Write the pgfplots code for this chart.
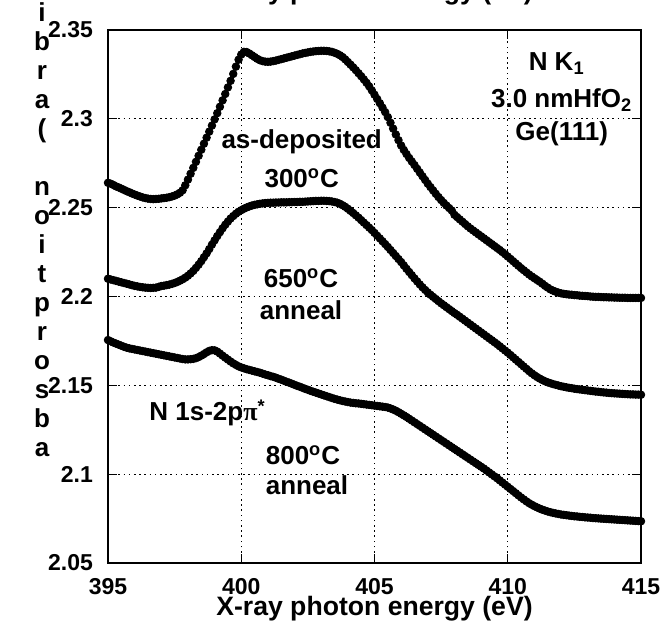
\documentclass[border=0pt]{standalone}
\usepackage{pgfplots}
\pgfplotsset{compat=1.18}
\usepackage{fontspec}
\setmainfont{Liberation Sans}
\newfontfamily\grk{Liberation Serif}
\newcommand\tl{\fontsize{11.5}{13}\selectfont\bfseries}
\begin{document}
\begin{tikzpicture}
\useasboundingbox (-54pt,-38pt) rectangle (281pt,281.5pt);
\clip (-54pt,-38pt) rectangle (281pt,281.5pt);
\begin{axis}[
  at={(0,0)}, anchor=south west,
  width=266.5pt, height=266.5pt, scale only axis,
  xmin=395, xmax=415, ymin=2.05, ymax=2.35,
  xtick={395,400,405,410,415},
  xticklabels={\tl 395,\tl 400,\tl 405,\tl 410,\tl 415},
  ytick={2.05,2.1,2.15,2.2,2.25,2.3,2.35},
  yticklabels={\tl 2.05,\tl 2.1,\tl 2.15,\tl 2.2,\tl 2.25,\tl 2.3,\tl 2.35},
  every tick label/.append style={font=\tl},
  yticklabel style={xshift=-4pt},
  xticklabel style={yshift=-4.3pt},
  tick align=inside, major tick length=4.5pt,
  xtick pos=both, ytick pos=both,
  tick style={black, line width=0.6pt},
  axis line style={black, line width=0.7pt},
  grid=major,
  major grid style={black, line width=0.5pt, dash pattern=on 0.8pt off 1.8pt},
  xlabel={X-ray photon energy (eV)},
  xlabel style={at={(axis description cs:0.5,0)}, anchor=base, yshift=-26pt, font=\bfseries\fontsize{13.3}{15}\selectfont},
  title={X-ray photon energy (eV)},
  title style={at={(axis description cs:0.5,1)}, anchor=base, yshift=9.5pt, font=\bfseries\fontsize{13.3}{15}\selectfont},
]
% as-deposited 300 C
\addplot[only marks, mark=*, mark size=1.9pt, black] table {
395.0 2.2640
395.1 2.2635
395.2 2.2628
395.3 2.2620
395.4 2.2614
395.5 2.2607
395.6 2.2600
395.7 2.2593
395.8 2.2587
395.9 2.2580
396.0 2.2574
396.1 2.2568
396.2 2.2563
396.3 2.2558
396.4 2.2554
396.5 2.2551
396.6 2.2549
396.7 2.2548
396.8 2.2549
396.9 2.2550
397.0 2.2552
397.1 2.2554
397.2 2.2556
397.3 2.2559
397.4 2.2563
397.5 2.2568
397.6 2.2575
397.7 2.2584
397.8 2.2598
397.9 2.2626
398.0 2.2658
398.1 2.2691
398.2 2.2724
398.3 2.2758
398.4 2.2792
398.5 2.2826
398.6 2.2860
398.7 2.2894
398.8 2.2928
398.9 2.2962
399.0 2.2997
399.1 2.3032
399.2 2.3068
399.3 2.3104
399.4 2.3140
399.5 2.3177
399.6 2.3214
399.7 2.3253
399.8 2.3294
399.9 2.3333
400.0 2.3362
400.1 2.3377
400.2 2.3376
400.3 2.3368
400.4 2.3358
400.5 2.3348
400.6 2.3338
400.7 2.3330
400.8 2.3325
400.9 2.3322
401.0 2.3321
401.1 2.3322
401.2 2.3325
401.3 2.3328
401.4 2.3332
401.5 2.3336
401.6 2.3340
401.7 2.3344
401.8 2.3348
401.9 2.3352
402.0 2.3356
402.1 2.3360
402.2 2.3364
402.3 2.3368
402.4 2.3371
402.5 2.3374
402.6 2.3377
402.7 2.3379
402.8 2.3381
402.9 2.3382
403.0 2.3383
403.1 2.3383
403.2 2.3382
403.3 2.3380
403.4 2.3377
403.5 2.3372
403.6 2.3366
403.7 2.3358
403.8 2.3348
403.9 2.3335
404.0 2.3320
404.1 2.3305
404.2 2.3290
404.3 2.3274
404.4 2.3257
404.5 2.3240
404.6 2.3222
404.7 2.3203
404.8 2.3183
404.9 2.3160
405.0 2.3136
405.1 2.3112
405.2 2.3088
405.3 2.3063
405.4 2.3038
405.5 2.3010
405.6 2.2978
405.7 2.2945
405.8 2.2912
405.9 2.2880
406.0 2.2850
406.1 2.2825
406.2 2.2802
406.3 2.2780
406.4 2.2760
406.5 2.2740
406.6 2.2719
406.7 2.2698
406.8 2.2677
406.9 2.2656
407.0 2.2635
407.1 2.2616
407.2 2.2597
407.3 2.2578
407.4 2.2560
407.5 2.2543
407.6 2.2527
407.7 2.2512
407.8 2.2498
407.9 2.2484
408.0 2.2460
408.1 2.2447
408.2 2.2434
408.3 2.2421
408.4 2.2408
408.5 2.2395
408.6 2.2383
408.7 2.2372
408.8 2.2361
408.9 2.2350
409.0 2.2339
409.1 2.2328
409.2 2.2317
409.3 2.2306
409.4 2.2295
409.5 2.2284
409.6 2.2273
409.7 2.2262
409.8 2.2250
409.9 2.2238
410.0 2.2225
410.1 2.2212
410.2 2.2199
410.3 2.2186
410.4 2.2173
410.5 2.2160
410.6 2.2148
410.7 2.2136
410.8 2.2124
410.9 2.2113
411.0 2.2103
411.1 2.2093
411.2 2.2083
411.3 2.2072
411.4 2.2060
411.5 2.2050
411.6 2.2040
411.7 2.2033
411.8 2.2027
411.9 2.2022
412.0 2.2018
412.1 2.2015
412.2 2.2013
412.3 2.2011
412.4 2.2010
412.5 2.2008
412.6 2.2007
412.7 2.2005
412.8 2.2004
412.9 2.2003
413.0 2.2002
413.1 2.2000
413.2 2.1999
413.3 2.1998
413.4 2.1998
413.5 2.1997
413.6 2.1996
413.7 2.1996
413.8 2.1995
413.9 2.1995
414.0 2.1994
414.1 2.1994
414.2 2.1993
414.3 2.1993
414.4 2.1993
414.5 2.1992
414.6 2.1992
414.7 2.1992
414.8 2.1992
414.9 2.1992
415.0 2.1992
};
% 650 C anneal
\addplot[only marks, mark=*, mark size=1.9pt, black] table {
395.0 2.2100
395.1 2.2096
395.2 2.2092
395.3 2.2088
395.4 2.2084
395.5 2.2080
395.6 2.2076
395.7 2.2072
395.8 2.2068
395.9 2.2064
396.0 2.2060
396.1 2.2057
396.2 2.2054
396.3 2.2052
396.4 2.2050
396.5 2.2049
396.6 2.2048
396.7 2.2049
396.8 2.2050
396.9 2.2054
397.0 2.2059
397.1 2.2061
397.2 2.2064
397.3 2.2067
397.4 2.2071
397.5 2.2076
397.6 2.2082
397.7 2.2089
397.8 2.2097
397.9 2.2106
398.0 2.2117
398.1 2.2130
398.2 2.2144
398.3 2.2161
398.4 2.2179
398.5 2.2199
398.6 2.2221
398.7 2.2243
398.8 2.2267
398.9 2.2292
399.0 2.2316
399.1 2.2340
399.2 2.2362
399.3 2.2384
399.4 2.2404
399.5 2.2422
399.6 2.2439
399.7 2.2453
399.8 2.2466
399.9 2.2477
400.0 2.2486
400.1 2.2494
400.2 2.2501
400.3 2.2507
400.4 2.2512
400.5 2.2516
400.6 2.2519
400.7 2.2522
400.8 2.2524
400.9 2.2526
401.0 2.2527
401.1 2.2528
401.2 2.2528
401.3 2.2529
401.4 2.2529
401.5 2.2530
401.6 2.2530
401.7 2.2530
401.8 2.2531
401.9 2.2531
402.0 2.2532
402.1 2.2532
402.2 2.2533
402.3 2.2533
402.4 2.2534
402.5 2.2535
402.6 2.2536
402.7 2.2537
402.8 2.2538
402.9 2.2538
403.0 2.2539
403.1 2.2539
403.2 2.2538
403.3 2.2537
403.4 2.2535
403.5 2.2532
403.6 2.2528
403.7 2.2522
403.8 2.2514
403.9 2.2505
404.0 2.2494
404.1 2.2482
404.2 2.2470
404.3 2.2457
404.4 2.2444
404.5 2.2430
404.6 2.2416
404.7 2.2402
404.8 2.2388
404.9 2.2374
405.0 2.2358
405.1 2.2342
405.2 2.2327
405.3 2.2311
405.4 2.2295
405.5 2.2279
405.6 2.2262
405.7 2.2245
405.8 2.2228
405.9 2.2211
406.0 2.2194
406.1 2.2175
406.2 2.2156
406.3 2.2138
406.4 2.2120
406.5 2.2102
406.6 2.2085
406.7 2.2068
406.8 2.2052
406.9 2.2037
407.0 2.2023
407.1 2.2010
407.2 2.1998
407.3 2.1986
407.4 2.1974
407.5 2.1962
407.6 2.1951
407.7 2.1940
407.8 2.1929
407.9 2.1918
408.0 2.1907
408.1 2.1897
408.2 2.1886
408.3 2.1875
408.4 2.1864
408.5 2.1853
408.6 2.1842
408.7 2.1831
408.8 2.1820
408.9 2.1809
409.0 2.1798
409.1 2.1787
409.2 2.1776
409.3 2.1765
409.4 2.1754
409.5 2.1743
409.6 2.1732
409.7 2.1720
409.8 2.1708
409.9 2.1696
410.0 2.1684
410.1 2.1671
410.2 2.1658
410.3 2.1645
410.4 2.1632
410.5 2.1619
410.6 2.1606
410.7 2.1593
410.8 2.1580
410.9 2.1568
411.0 2.1557
411.1 2.1547
411.2 2.1538
411.3 2.1530
411.4 2.1523
411.5 2.1517
411.6 2.1512
411.7 2.1507
411.8 2.1503
411.9 2.1499
412.0 2.1495
412.1 2.1492
412.2 2.1489
412.3 2.1486
412.4 2.1484
412.5 2.1481
412.6 2.1479
412.7 2.1477
412.8 2.1475
412.9 2.1473
413.0 2.1471
413.1 2.1469
413.2 2.1467
413.3 2.1465
413.4 2.1464
413.5 2.1462
413.6 2.1460
413.7 2.1459
413.8 2.1457
413.9 2.1456
414.0 2.1455
414.1 2.1454
414.2 2.1453
414.3 2.1452
414.4 2.1451
414.5 2.1450
414.6 2.1449
414.7 2.1449
414.8 2.1448
414.9 2.1448
415.0 2.1447
};
% 800 C anneal
\addplot[only marks, mark=*, mark size=1.9pt, black] table {
395.0 2.1755
395.1 2.1748
395.2 2.1741
395.3 2.1735
395.4 2.1729
395.5 2.1723
395.6 2.1717
395.7 2.1712
395.8 2.1708
395.9 2.1705
396.0 2.1702
396.1 2.1699
396.2 2.1696
396.3 2.1693
396.4 2.1690
396.5 2.1687
396.6 2.1684
396.7 2.1681
396.8 2.1678
396.9 2.1675
397.0 2.1672
397.1 2.1669
397.2 2.1666
397.3 2.1663
397.4 2.1660
397.5 2.1657
397.6 2.1654
397.7 2.1651
397.8 2.1648
397.9 2.1646
398.0 2.1646
398.1 2.1647
398.2 2.1649
398.3 2.1653
398.4 2.1659
398.5 2.1667
398.6 2.1676
398.7 2.1686
398.8 2.1694
398.9 2.1698
399.0 2.1697
399.1 2.1690
399.2 2.1679
399.3 2.1667
399.4 2.1656
399.5 2.1645
399.6 2.1634
399.7 2.1624
399.8 2.1615
399.9 2.1607
400.0 2.1601
400.1 2.1596
400.2 2.1591
400.3 2.1587
400.4 2.1583
400.5 2.1579
400.6 2.1575
400.7 2.1571
400.8 2.1566
400.9 2.1561
401.0 2.1557
401.1 2.1552
401.2 2.1548
401.3 2.1543
401.4 2.1537
401.5 2.1532
401.6 2.1526
401.7 2.1520
401.8 2.1515
401.9 2.1509
402.0 2.1503
402.1 2.1497
402.2 2.1492
402.3 2.1486
402.4 2.1480
402.5 2.1475
402.6 2.1469
402.7 2.1464
402.8 2.1459
402.9 2.1454
403.0 2.1449
403.1 2.1444
403.2 2.1439
403.3 2.1434
403.4 2.1429
403.5 2.1424
403.6 2.1420
403.7 2.1416
403.8 2.1412
403.9 2.1409
404.0 2.1406
404.1 2.1403
404.2 2.1401
404.3 2.1399
404.4 2.1398
404.5 2.1396
404.6 2.1394
404.7 2.1392
404.8 2.1390
404.9 2.1388
405.0 2.1386
405.1 2.1384
405.2 2.1382
405.3 2.1380
405.4 2.1378
405.5 2.1375
405.6 2.1370
405.7 2.1364
405.8 2.1357
405.9 2.1349
406.0 2.1340
406.1 2.1331
406.2 2.1322
406.3 2.1312
406.4 2.1302
406.5 2.1292
406.6 2.1282
406.7 2.1272
406.8 2.1262
406.9 2.1252
407.0 2.1242
407.1 2.1232
407.2 2.1222
407.3 2.1212
407.4 2.1202
407.5 2.1192
407.6 2.1182
407.7 2.1172
407.8 2.1162
407.9 2.1152
408.0 2.1142
408.1 2.1132
408.2 2.1122
408.3 2.1112
408.4 2.1102
408.5 2.1092
408.6 2.1082
408.7 2.1072
408.8 2.1062
408.9 2.1052
409.0 2.1042
409.1 2.1032
409.2 2.1021
409.3 2.1010
409.4 2.0999
409.5 2.0988
409.6 2.0977
409.7 2.0965
409.8 2.0953
409.9 2.0941
410.0 2.0929
410.1 2.0917
410.2 2.0905
410.3 2.0893
410.4 2.0881
410.5 2.0869
410.6 2.0858
410.7 2.0847
410.8 2.0837
410.9 2.0828
411.0 2.0820
411.1 2.0813
411.2 2.0806
411.3 2.0800
411.4 2.0795
411.5 2.0790
411.6 2.0786
411.7 2.0782
411.8 2.0779
411.9 2.0776
412.0 2.0773
412.1 2.0771
412.2 2.0769
412.3 2.0767
412.4 2.0765
412.5 2.0763
412.6 2.0762
412.7 2.0760
412.8 2.0759
412.9 2.0757
413.0 2.0756
413.1 2.0755
413.2 2.0753
413.3 2.0752
413.4 2.0751
413.5 2.0750
413.6 2.0749
413.7 2.0748
413.8 2.0747
413.9 2.0746
414.0 2.0745
414.1 2.0744
414.2 2.0743
414.3 2.0742
414.4 2.0741
414.5 2.0740
414.6 2.0739
414.7 2.0738
414.8 2.0737
414.9 2.0736
415.0 2.0735
};
\end{axis}
\begin{scope}[every node/.style={font=\bfseries\fontsize{13}{15}\selectfont, inner sep=0pt}]
\node at (224.35pt,249.85pt) {N K\textsubscript{1}};
\node at (226.85pt,231.5pt) {3.0 nmHfO\textsubscript{2}};
\node at (226.85pt,214.85pt) {Ge(111)};
\node at (96.85pt,210.65pt) {as-deposited};
\node at (96.85pt,192.35pt) {300\textsuperscript{o}C};
\node at (96.5pt,142.5pt) {650\textsuperscript{o}C};
\node at (96.5pt,126.5pt) {anneal};
\node at (49.75pt,75pt) {N 1s-2p{\grk\bfseries π}\textsuperscript{*}};
\node at (97.5pt,54pt) {800\textsuperscript{o}C};
\node at (99.5pt,39pt) {anneal};
\node[anchor=north, align=center, font=\bfseries\fontsize{13}{14.5}\selectfont] at (-33pt,280.5pt)
  {i\\b\\r\\a\\(\\~\\n\\o\\i\\t\\p\\r\\o\\s\\b\\a};
\end{scope}
\end{tikzpicture}
\end{document}
